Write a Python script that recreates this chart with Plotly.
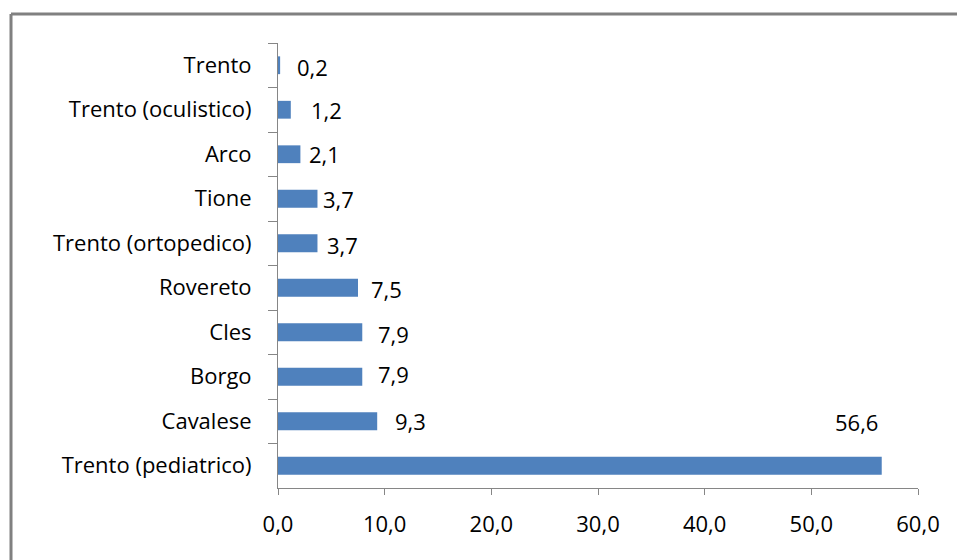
import plotly.graph_objects as go

# Data: percentage by site
categories = [
    "Trento",
    "Trento (oculistico)",
    "Arco",
    "Tione",
    "Trento (ortopedico)",
    "Rovereto",
    "Cles",
    "Borgo",
    "Cavalese",
    "Trento (pediatrico)",
]
values = [0.2, 1.2, 2.1, 3.7, 3.7, 7.5, 7.9, 7.9, 9.3, 56.6]
x_ticks = [0, 10, 20, 30, 40, 50, 60]

# Label placement tweaks (pixel offsets from bar end)
label_xshift = [15, 18, 7, 4, 8, 11, 14, 14, 16, -49]
label_yshift = [-2, 0, 0, 0, -2, -1, -2, 3, 0, 44]

BAR_COLOR = "#4F81BD"
AXIS_COLOR = "#868686"
FRAME_COLOR = "#808080"
FONT = "Open Sans"
FS = 22

W, H = 957, 560
ML, MR, MT, MB = 278, 39, 43, 72


def fmt(v):
    return f"{v:.1f}".replace(".", ",")


fig = go.Figure(
    go.Bar(
        x=values,
        y=categories,
        orientation="h",
        marker=dict(color=BAR_COLOR, line=dict(width=0)),
        width=0.4,
        hoverinfo="skip",
    )
)

for cat, v, dx, dy in zip(categories, values, label_xshift, label_yshift):
    fig.add_annotation(
        x=v, y=cat, text=fmt(v), showarrow=False,
        xanchor="left", yanchor="middle",
        xshift=dx, yshift=dy,
        font=dict(family=FONT, size=FS, color="black"),
    )

# Outer chart frame: top and left edges (the rest lies past the canvas)
pw = W - ML - MR
ph = H - MT - MB
fx0 = (11 - ML) / pw
fx1 = (W + 10 - ML) / pw
fy_top = (H - MB - 14) / ph
fy_bot = -(MB + 10) / ph
fig.add_shape(type="line", xref="paper", yref="paper",
              x0=fx0, x1=fx1, y0=fy_top, y1=fy_top,
              line=dict(color=FRAME_COLOR, width=3))
fig.add_shape(type="line", xref="paper", yref="paper",
              x0=fx0, x1=fx0, y0=fy_bot, y1=fy_top,
              line=dict(color=FRAME_COLOR, width=3))

fig.update_layout(
    width=W, height=H,
    margin=dict(l=ML, r=MR, t=MT, b=MB),
    paper_bgcolor="white", plot_bgcolor="white",
    showlegend=False,
    font=dict(family=FONT, size=FS, color="black"),
    xaxis=dict(
        range=[0, 60],
        tickvals=x_ticks,
        ticktext=[fmt(t) for t in x_ticks],
        showgrid=False, zeroline=False,
        showline=True, linecolor=AXIS_COLOR, linewidth=1,
        ticks="outside", ticklen=6, tickcolor=AXIS_COLOR, tickwidth=1,
        ticklabelstandoff=11,
        fixedrange=True,
    ),
    yaxis=dict(
        type="category",
        categoryorder="array", categoryarray=categories,
        range=[len(categories) - 0.5, -0.5],
        showgrid=False, zeroline=False,
        showline=True, linecolor=AXIS_COLOR, linewidth=1,
        ticks="outside", ticklen=9, tickcolor=AXIS_COLOR, tickwidth=1,
        tickson="boundaries",
        ticklabelstandoff=21,
        fixedrange=True,
    ),
)

fig.write_html("out.html", config={"displayModeBar": False})
